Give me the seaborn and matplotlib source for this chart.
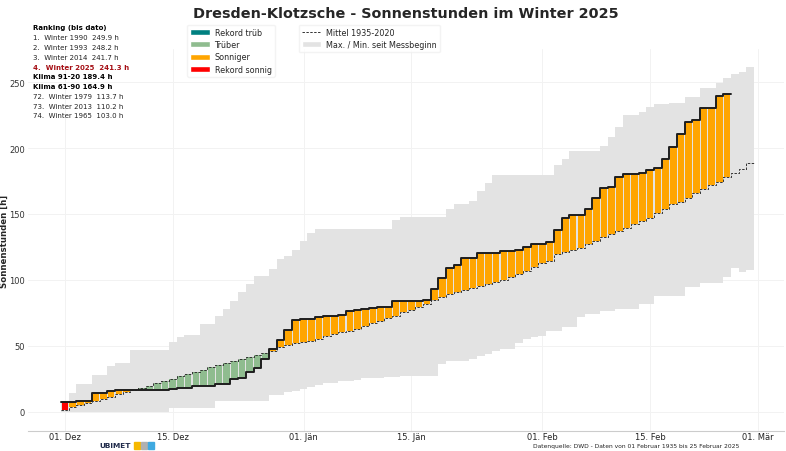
# %%
# Sonnenstunden Winter 2025 - Dresden-Klotzsche
import matplotlib.pyplot as plt
import numpy as np
import pandas as pd
import seaborn as sns
from matplotlib.lines import Line2D
from matplotlib.patches import Patch

# %%
# data (cumulative hours from 01 Dec)
start = "2024-12-01"

# Mittel 1935-2020 (90 days)
mittel = [
    1.2, 3.5, 5.2, 6.7, 8.3, 10.0, 11.6, 13.3, 15.0, 16.9,
    18.4, 20.0, 21.6, 23.3, 25.0, 26.9, 28.7, 30.5, 32.0, 33.8,
    35.6, 37.1, 38.6, 40.1, 41.8, 43.3, 44.6, 45.9, 48.9, 50.7,
    52.2, 53.2, 53.9, 55.5, 57.3, 59.0, 60.3, 61.5, 62.8, 65.3,
    67.3, 69.1, 70.9, 72.8, 75.4, 77.2, 79.7, 81.7, 85.0, 86.8,
    89.3, 91.0, 92.4, 93.6, 95.1, 96.8, 98.6, 100.1, 101.9, 104.4,
    106.9, 110.2, 112.7, 114.5, 119.5, 121.3, 122.8, 124.6, 127.6, 129.6,
    132.5, 134.6, 137.1, 139.7, 142.2, 144.7, 147.3, 151.0, 154.0, 157.3,
    159.1, 161.9, 165.7, 168.7, 171.7, 174.2, 178.0, 180.8, 183.8, 188.3,
]

# Max / Min seit Messbeginn (90 days)
maximum = [
    7.3, 14.4, 21.2, 21.2, 28.2, 28.2, 35.0, 37.1, 37.1, 47.1,
    47.1, 47.1, 47.1, 47.1, 52.7, 56.5, 58.2, 58.2, 66.6, 66.6,
    72.8, 77.9, 84.2, 91.0, 96.8, 103.1, 103.1, 108.2, 115.7, 118.0,
    123.0, 129.6, 135.9, 138.4, 138.4, 138.4, 138.4, 138.4, 138.4, 138.4,
    138.4, 138.4, 138.4, 145.5, 148.0, 148.0, 148.0, 148.0, 148.0, 148.0,
    153.6, 157.3, 157.3, 159.8, 167.4, 173.7, 179.3, 179.3, 179.3, 179.3,
    179.3, 179.3, 179.3, 179.3, 186.8, 191.9, 197.7, 197.7, 197.7, 197.7,
    201.5, 208.5, 216.1, 224.7, 224.7, 227.2, 231.2, 233.0, 233.0, 234.0,
    234.0, 238.5, 238.5, 245.6, 245.6, 249.4, 253.2, 256.4, 257.4, 261.5,
]
minimum = [
    0.0, 0.0, 0.0, 0.0, 0.0, 0.0, 0.0, 0.0, 0.0, 0.0,
    0.0, 0.0, 0.0, 0.0, 3.0, 3.0, 3.0, 3.0, 3.0, 3.0,
    8.5, 8.5, 8.5, 8.5, 8.5, 8.5, 8.5, 12.5, 13.0, 15.0,
    16.0, 17.5, 19.0, 20.4, 21.9, 21.9, 23.2, 23.2, 24.2, 25.5,
    25.5, 25.5, 26.7, 26.7, 27.5, 27.5, 27.5, 27.5, 27.5, 36.3,
    38.8, 38.8, 38.8, 40.0, 42.0, 44.0, 46.0, 48.0, 48.0, 52.0,
    55.0, 57.0, 57.7, 61.5, 61.5, 64.1, 64.1, 71.6, 74.1, 74.1,
    76.6, 76.6, 78.0, 78.0, 78.0, 82.0, 82.0, 88.0, 88.0, 88.0,
    88.0, 95.0, 95.0, 98.0, 98.0, 98.0, 101.9, 109.4, 105.7, 107.6,
]

# Winter 2025 (01 Dec - 25 Feb, 87 days)
winter_2025 = [
    7.3, 7.6, 8.5, 8.5, 14.4, 14.4, 16.1, 16.3, 16.5, 16.5,
    16.5, 16.5, 16.5, 16.5, 17.6, 18.0, 18.2, 19.3, 19.3, 19.3,
    21.2, 21.2, 25.0, 25.5, 30.5, 33.5, 40.1, 47.3, 54.5, 61.8,
    69.6, 70.3, 70.6, 71.6, 72.4, 72.4, 73.4, 76.2, 77.2, 77.9,
    78.4, 79.2, 79.2, 83.7, 84.2, 84.2, 84.2, 85.0, 93.0, 101.4,
    108.7, 111.2, 116.5, 116.5, 120.3, 120.3, 120.3, 121.6, 121.6, 122.5,
    125.3, 127.1, 127.1, 129.1, 137.9, 147.3, 149.0, 149.0, 153.6, 161.9,
    169.4, 170.7, 178.3, 180.0, 180.0, 181.3, 183.3, 185.1, 191.9, 201.0,
    210.8, 219.9, 221.1, 230.5, 230.5, 239.3, 241.3,
]

tick_dates = ["2024-12-01", "2024-12-15", "2025-01-01", "2025-01-15",
              "2025-02-01", "2025-02-15", "2025-03-01"]
tick_labels = ["01. Dez", "15. Dez", "01. Jän", "15. Jän", "01. Feb", "15. Feb", "01. Mär"]

ranking = [
    ("Ranking (bis dato)", "bold", "black"),
    ("1.  Winter 1990  249.9 h", "normal", "#222222"),
    ("2.  Winter 1993  248.2 h", "normal", "#222222"),
    ("3.  Winter 2014  241.7 h", "normal", "#222222"),
    ("4.  Winter 2025  241.3 h", "bold", "#a50f15"),
    ("Klima 91-20 189.4 h", "bold", "black"),
    ("Klima 61-90 164.9 h", "bold", "black"),
    ("72.  Winter 1979  113.7 h", "normal", "#222222"),
    ("73.  Winter 2013  110.2 h", "normal", "#222222"),
    ("74.  Winter 1965  103.0 h", "normal", "#222222"),
]

# %%
# frames
days = pd.date_range(start, periods=len(mittel), freq="D")
clim = pd.DataFrame({"date": days, "mittel": mittel, "max": maximum, "min": minimum})
obs = pd.DataFrame({"date": days[: len(winter_2025)], "h": winter_2025})
obs = obs.merge(clim, on="date")

half = pd.Timedelta(hours=12)
edges = pd.DatetimeIndex(list(days - half) + [days[-1] + half])
obs_edges = edges[: len(obs) + 1]


def category(row):
    if row["h"] >= row["max"]:
        return "Rekord sonnig"
    if row["h"] <= row["min"]:
        return "Rekord trüb"
    if row["h"] > row["mittel"]:
        return "Sonniger"
    return "Trüber"


obs["cat"] = obs.apply(category, axis=1)
palette = {"Rekord trüb": "#008080", "Trüber": "#8fbc8f",
           "Sonniger": "#ffa500", "Rekord sonnig": "#ff0000"}

# step lines as post-steps on the day edges
mean_line = pd.DataFrame({"x": edges, "y": mittel + [mittel[-1]]})
obs_line = pd.DataFrame({"x": obs_edges, "y": winter_2025 + [winter_2025[-1]]})

# %%
# plot
sns.set_theme(style="white")
plt.rcParams["font.family"] = ["DejaVu Sans"]

fig = plt.figure(figsize=(7.86, 4.52), dpi=100)
ax = fig.add_axes([0.0356, 0.0442, 0.962, 0.845])

ax.stairs(clim["max"], edges, baseline=clim["min"], fill=True,
          color="#e3e3e3", linewidth=0, zorder=1)

ax.bar(obs["date"], obs["h"] - obs["mittel"], bottom=obs["mittel"], width=0.85,
       color=obs["cat"].map(palette), linewidth=0, zorder=2)

sns.lineplot(data=mean_line, x="x", y="y", ax=ax, drawstyle="steps-post",
             color="#333333", linestyle=(0, (2.5, 1.5)), linewidth=0.7, zorder=3)
sns.lineplot(data=obs_line, x="x", y="y", ax=ax, drawstyle="steps-post",
             color="#1e1e1e", linewidth=1.4, zorder=4)

ax.set_xlim(pd.Timestamp(start) - pd.Timedelta(days=4.8),
            pd.Timestamp(start) + pd.Timedelta(days=93.4))
ax.set_ylim(-14.5, 275)
ax.set_xticks(pd.to_datetime(tick_dates))
ax.set_xticklabels(tick_labels, fontsize=6, color="#222222")
ax.set_yticks([0, 50, 100, 150, 200, 250])
ax.tick_params(axis="y", labelsize=6, colors="#333333", length=0, pad=2)
ax.tick_params(axis="x", length=0, pad=1)
ax.set_xlabel("")
ax.set_ylabel("Sonnenstunden [h]", fontsize=6.2, fontweight="bold")
ax.yaxis.set_label_coords(-0.0252, 0.5)
ax.grid(True, color="#f2f2f2", linewidth=0.7)
ax.set_axisbelow(True)
for side in ["left", "top", "right"]:
    ax.spines[side].set_visible(False)
ax.spines["bottom"].set_color("#cccccc")
ax.spines["bottom"].set_linewidth(0.8)

fig.text(0.516, 0.968, "Dresden-Klotzsche - Sonnenstunden im Winter 2025",
         ha="center", va="center", fontsize=10.4, fontweight="bold")

# legends
cat_handles = [Patch(facecolor=palette[k], label=k) for k in palette]
leg1 = fig.legend(handles=cat_handles, loc="upper left", bbox_to_anchor=(0.233, 0.952),
                  fontsize=5.8, frameon=True, handlelength=2.4, handleheight=0.8,
                  labelspacing=0.4, borderpad=0.4, handletextpad=0.6)
leg1.get_frame().set_edgecolor("#f0f0f0")
ref_handles = [Line2D([0], [0], color="#333333", linestyle=(0, (2.5, 1.5)), linewidth=0.7,
                      label="Mittel 1935-2020"),
               Patch(facecolor="#e3e3e3", label="Max. / Min. seit Messbeginn")]
leg2 = fig.legend(handles=ref_handles, loc="upper left", bbox_to_anchor=(0.375, 0.952),
                  fontsize=5.8, frameon=True, handlelength=2.4, handleheight=0.8,
                  labelspacing=0.4, borderpad=0.4, handletextpad=0.6)
leg2.get_frame().set_edgecolor("#f0f0f0")

# ranking block
for i, (txt, weight, col) in enumerate(ranking):
    fig.text(0.042, 1 - (28.3 + 9.8 * i) / 452, txt, ha="left", va="center",
             fontsize=5, fontweight=weight, color=col)

# footer
fig.text(0.127, 0.013, "UBIMET", ha="left", va="center", fontsize=5.3,
         fontweight="bold", color="#1f2a4a")
for j, c in enumerate(["#f6b800", "#b0b0b0", "#3fa9e0"]):
    fig.patches.append(plt.Rectangle((0.171 + j * 0.0085, 0.005), 0.0075, 0.015,
                                     transform=fig.transFigure, color=c))
fig.text(0.81, 0.013, "Datenquelle: DWD - Daten von 01 Februar 1935 bis 25 Februar 2025",
         ha="center", va="center", fontsize=4.3, color="#222222")

fig.savefig("out.png", dpi=100)
